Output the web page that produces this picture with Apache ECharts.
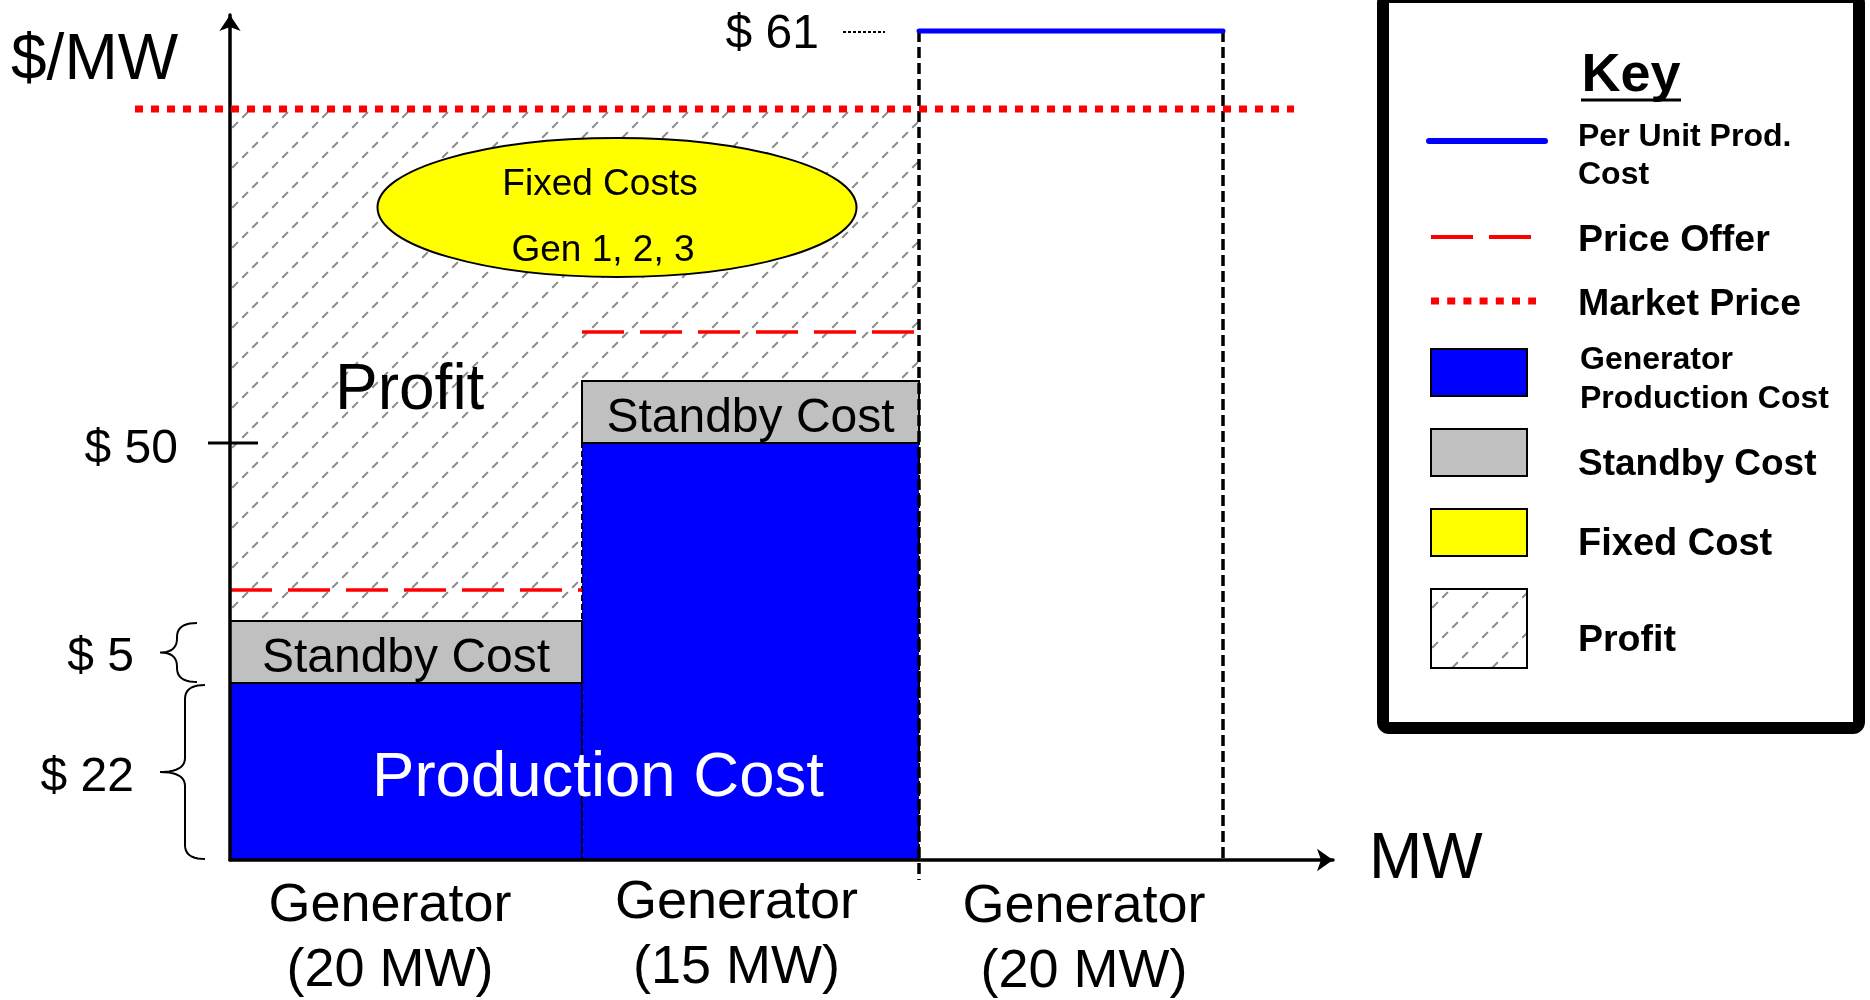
<!DOCTYPE html>
<html>
<head>
<meta charset="utf-8">
<title>Generator cost stack and market price</title>
<script src="https://cdn.jsdelivr.net/npm/echarts@6/dist/echarts.min.js"></script>
<style>
  html, body { margin: 0; padding: 0; background: #fff; }
  #chart { width: 1870px; height: 1000px; }
</style>
</head>
<body>
<div id="chart"></div>
<script>
// ---- data -------------------------------------------------------------
const generators = ['Generator', 'Generator', 'Generator'];
const capacityMW = [20, 15, 20];               // MW per generator
const productionCost = [22, 50, 61];           // $/MW per unit production cost
const standbyCost = [5, 5, 0];                 // $/MW standby cost
const priceOffer = [31, 55.9, null];           // $/MW price offer
const dispatched = [true, true, false];        // running below the market price
const marketPrice = 60;                        // $/MW clearing price
const priceTicks = [50];                       // marked on the price axis

// ---- not-to-scale axes ------------------------------------------------
// The drawing is schematic: values are spread over each axis by these
// break points (value -> axis units) before ECharts maps units to pixels.
const PRICE_BREAKS = [[0, 0], [22, 177], [27, 239], [50, 417], [55, 479], [60, 751], [61, 829]];
const MW_BREAKS = [[0, 0], [20, 352], [35, 689], [55, 993]];
function stepScale(breaks, v) {
  for (let i = 1; i < breaks.length; i++) {
    const [v0, u0] = breaks[i - 1];
    const [v1, u1] = breaks[i];
    if (v <= v1 || i === breaks.length - 1) return u0 + (v - v0) * (u1 - u0) / (v1 - v0);
  }
  return 0;
}
const X = v => stepScale(MW_BREAKS, v);
const Y = v => stepScale(PRICE_BREAKS, v);

const mwStart = capacityMW.map((_, i) => capacityMW.slice(0, i).reduce((a, b) => a + b, 0));
const mwEnd = mwStart.map((s, i) => s + capacityMW[i]);
// one row per generator: [x0, x1, production top, standby top, offer, index]
const genRows = generators.map((_, i) => [
  X(mwStart[i]), X(mwEnd[i]),
  Y(productionCost[i]), Y(productionCost[i] + standbyCost[i]),
  priceOffer[i] == null ? -1 : Y(priceOffer[i]), i
]);
const runningRows = genRows.filter(r => dispatched[r[5]]);
const idleRows = genRows.filter(r => !dispatched[r[5]]);

// ---- styles -----------------------------------------------------------
const FONT = 'Liberation Sans, Arial, Helvetica, sans-serif';
const BLUE = '#0000ff', GREY = '#c0c0c0', RED = '#ff0000', YELLOW = '#ffff00';
// offsets of the generator names from the block centre / MW axis
const LABEL_NUDGE = [[-16, 13.5], [-14, 10.5], [13, 15]];

// diagonal dashed hatch used for the profit area
function makeHatch() {
  const s = 40;
  const c = document.createElement('canvas');
  c.width = s; c.height = s;
  const ctx = c.getContext('2d');
  ctx.strokeStyle = '#8a8a8a';
  ctx.lineWidth = 2;
  ctx.setLineDash([8, Math.SQRT2 * s / 4 - 8]);
  ctx.lineDashOffset = 11;
  ctx.beginPath();
  ctx.moveTo(0, s);
  ctx.lineTo(s, 0);
  ctx.stroke();
  return { image: c, repeat: 'repeat' };
}
const HATCH = makeHatch();

// curly brace opening to the right, sampled as a polyline
function bracePoints(xEnd, xSpine, xTip, yTop, yBot) {
  const pts = [];
  const mid = (yTop + yBot) / 2;
  const r = Math.min(14, (yBot - yTop) / 4);
  const quad = (p0, c, p1) => {
    for (let t = 0; t <= 1.0001; t += 0.1) {
      const a = (1 - t) * (1 - t), b = 2 * (1 - t) * t, d = t * t;
      pts.push([a * p0[0] + b * c[0] + d * p1[0], a * p0[1] + b * c[1] + d * p1[1]]);
    }
  };
  quad([xEnd, yTop], [xSpine, yTop], [xSpine, yTop + r]);
  quad([xSpine, mid - r], [xSpine, mid], [xTip, mid]);
  quad([xTip, mid], [xSpine, mid], [xSpine, mid + r]);
  quad([xSpine, yBot - r], [xSpine, yBot], [xEnd, yBot]);
  return pts;
}

const chart = echarts.init(document.getElementById('chart'), null, { renderer: 'canvas' });

const option = {
  backgroundColor: '#fff',
  animation: false,
  grid: { left: 230, top: 15, width: 1103, height: 845 },
  xAxis: {
    type: 'value', min: 0, max: 1103, z: 4,
    name: 'MW', nameLocation: 'end', nameGap: 36,
    nameTextStyle: { fontFamily: FONT, fontSize: 64, color: '#000', verticalAlign: 'middle', padding: [9, 0, 0, 0] },
    axisLine: { show: true, symbol: ['none', 'arrow'], symbolSize: [17, 16],
      lineStyle: { color: '#000', width: 3.5 } },
    axisTick: { show: false }, axisLabel: { show: false }, splitLine: { show: false }
  },
  yAxis: {
    type: 'value', min: 0, max: 845, z: 4,
    axisLine: { show: true, symbol: ['none', 'arrow'], symbolSize: [16, 16],
      lineStyle: { color: '#000', width: 3.5 } },
    axisTick: { show: false }, axisLabel: { show: false }, splitLine: { show: false }
  },
  series: [
    {
      // profit: between the cost stack and the market price
      name: 'Profit', type: 'custom', z: 1, silent: true,
      data: runningRows,
      renderItem: (p, api) => {
        const a = api.coord([api.value(0), Y(marketPrice)]);
        const b = api.coord([api.value(1), api.value(3)]);
        return { type: 'rect', shape: { x: a[0], y: a[1], width: b[0] - a[0], height: b[1] - a[1] },
          style: { fill: HATCH } };
      }
    },
    {
      name: 'Generator Production Cost', type: 'custom', z: 2, silent: true,
      data: runningRows,
      renderItem: (p, api) => {
        const a = api.coord([api.value(0), api.value(2)]);
        const b = api.coord([api.value(1), 0]);
        return { type: 'rect', shape: { x: a[0], y: a[1], width: b[0] - a[0], height: b[1] - a[1] },
          style: { fill: BLUE, stroke: '#000', lineWidth: 2, lineDash: [6, 3] } };
      }
    },
    {
      name: 'Standby Cost', type: 'custom', z: 2, silent: true,
      data: runningRows,
      renderItem: (p, api) => {
        const a = api.coord([api.value(0), api.value(3)]);
        const b = api.coord([api.value(1), api.value(2)]);
        return { type: 'group', children: [
          { type: 'rect', shape: { x: a[0], y: a[1], width: b[0] - a[0], height: b[1] - a[1] },
            style: { fill: GREY, stroke: '#000', lineWidth: 2 } },
          { type: 'text', x: (a[0] + b[0]) / 2, y: (a[1] + b[1]) / 2 + 7,
            style: { text: 'Standby Cost', fontFamily: FONT, fontSize: 48, fill: '#000',
              align: 'center', verticalAlign: 'middle' } }
        ] };
      }
    },
    {
      name: 'Price Offer', type: 'custom', z: 3, silent: true,
      data: runningRows.filter(r => r[4] >= 0),
      renderItem: (p, api) => {
        const a = api.coord([api.value(0), api.value(4)]);
        const b = api.coord([api.value(1), api.value(4)]);
        return { type: 'line', shape: { x1: a[0], y1: a[1], x2: b[0], y2: b[1] },
          style: { stroke: RED, lineWidth: 3.5, lineDash: [42, 16] } };
      }
    },
    {
      // generator above the market price: unit cost line over an empty dashed block
      name: 'Per Unit Prod. Cost', type: 'custom', z: 3, silent: true,
      data: idleRows,
      renderItem: (p, api) => {
        const a = api.coord([api.value(0), api.value(2)]);
        const b = api.coord([api.value(1), 0]);
        const i = api.value(5);
        return { type: 'group', children: [
          { type: 'line', shape: { x1: a[0], y1: a[1], x2: a[0], y2: b[1] + 20 },
            style: { stroke: '#000', lineWidth: 3.5, lineDash: [11, 5] } },
          { type: 'line', shape: { x1: b[0], y1: a[1], x2: b[0], y2: b[1] },
            style: { stroke: '#000', lineWidth: 3.5, lineDash: [11, 5] } },
          { type: 'line', shape: { x1: a[0], y1: a[1], x2: b[0], y2: a[1] },
            style: { stroke: BLUE, lineWidth: 5, lineCap: 'round' } },
          { type: 'line', shape: { x1: a[0] - 76, y1: a[1] + 1, x2: a[0] - 34, y2: a[1] + 1 },
            style: { stroke: '#000', lineWidth: 2, lineDash: [3, 2] } },
          { type: 'text', x: a[0] - 100, y: a[1] + 4,
            style: { text: '$ ' + productionCost[i], fontFamily: FONT, fontSize: 48, fill: '#000',
              align: 'right', verticalAlign: 'middle' } }
        ] };
      }
    },
    {
      name: 'Market Price', type: 'custom', z: 6, silent: true,
      data: [[0, X(mwEnd[mwEnd.length - 1]), Y(marketPrice)]],
      renderItem: (p, api) => {
        const a = api.coord([api.value(0), api.value(2)]);
        const b = api.coord([api.value(1), api.value(2)]);
        return { type: 'line', shape: { x1: a[0] - 95, y1: a[1], x2: b[0] + 71, y2: b[1] },
          style: { stroke: RED, lineWidth: 7, lineDash: [8, 8] } };
      }
    },
    {
      // ticks on the price axis
      name: 'Price ticks', type: 'custom', z: 5, silent: true,
      data: priceTicks.map(v => [0, Y(v), v]),
      renderItem: (p, api) => {
        const a = api.coord([0, api.value(1)]);
        return { type: 'group', children: [
          { type: 'line', shape: { x1: a[0] - 22, y1: a[1], x2: a[0] + 28, y2: a[1] },
            style: { stroke: '#000', lineWidth: 3 } },
          { type: 'text', x: a[0] - 52, y: a[1] + 7,
            style: { text: '$ ' + api.value(2), fontFamily: FONT, fontSize: 48, fill: '#000',
              align: 'right', verticalAlign: 'middle' } }
        ] };
      }
    },
    {
      // braces giving the cost build-up of the first generator
      name: 'Cost braces', type: 'custom', z: 5, silent: true,
      data: [
        [0, Y(productionCost[0]), productionCost[0], 25],
        [Y(productionCost[0]), Y(productionCost[0] + standbyCost[0]), standbyCost[0], 33]
      ],
      renderItem: (p, api) => {
        const lo = api.coord([0, api.value(0)]);
        const hi = api.coord([0, api.value(1)]);
        const endOff = api.value(3);
        const ax = lo[0];
        const pts = bracePoints(ax - endOff, ax - endOff - 20, ax - 70, hi[1] + 2, lo[1] - 1);
        const mid = (lo[1] + hi[1]) / 2;
        return { type: 'group', children: [
          { type: 'polyline', shape: { points: pts }, style: { stroke: '#000', lineWidth: 2, fill: null } },
          { type: 'text', x: ax - 96, y: mid + 6,
            style: { text: '$ ' + api.value(2), fontFamily: FONT, fontSize: 48, fill: '#000',
              align: 'right', verticalAlign: 'middle' } }
        ] };
      }
    },
    {
      // generator names under the MW axis
      name: 'Generator labels', type: 'custom', z: 5, silent: true,
      data: genRows,
      renderItem: (p, api) => {
        const i = api.value(5);
        const a = api.coord([api.value(0), 0]);
        const b = api.coord([api.value(1), 0]);
        return { type: 'text', x: (a[0] + b[0]) / 2 + LABEL_NUDGE[i][0], y: a[1] + LABEL_NUDGE[i][1],
          style: { text: generators[i] + '\n(' + capacityMW[i] + ' MW)', fontFamily: FONT, fontSize: 54,
            lineHeight: 65, fill: '#000', align: 'center', verticalAlign: 'top' } };
      }
    }
  ],
  graphic: [
    { type: 'text', x: 11, y: 61, z: 100,
      style: { text: '$/MW', fontFamily: FONT, fontSize: 64, fill: '#000', verticalAlign: 'middle' } },
    { type: 'text', x: 335, y: 391, z: 100,
      style: { text: 'Profit', fontFamily: FONT, fontSize: 64, fill: '#000', verticalAlign: 'middle' } },
    { type: 'text', x: 598, y: 778, z: 100,
      style: { text: 'Production Cost', fontFamily: FONT, fontSize: 63.5, fill: '#fff', align: 'center', verticalAlign: 'middle' } },
    { type: 'ellipse', shape: { cx: 617, cy: 207.5, rx: 239.5, ry: 69.5 }, z: 100,
      style: { fill: YELLOW, stroke: '#000', lineWidth: 2 } },
    { type: 'text', x: 600, y: 185, z: 101,
      style: { text: 'Fixed Costs', fontFamily: FONT, fontSize: 37, fill: '#000', align: 'center', verticalAlign: 'middle' } },
    { type: 'text', x: 603, y: 251, z: 101,
      style: { text: 'Gen 1, 2, 3', fontFamily: FONT, fontSize: 37, fill: '#000', align: 'center', verticalAlign: 'middle' } },

    // key
    { type: 'rect', shape: { x: 1383, y: -3, width: 476, height: 731, r: 6 }, z: 100,
      style: { fill: '#fff', stroke: '#000', lineWidth: 12 } },
    { type: 'text', x: 1631, y: 76, z: 101,
      style: { text: 'Key', fontFamily: FONT, fontWeight: 'bold', fontSize: 54, fill: '#000', align: 'center', verticalAlign: 'middle' } },
    { type: 'line', shape: { x1: 1581, y1: 100, x2: 1681, y2: 100 }, z: 101, style: { stroke: '#000', lineWidth: 3 } },

    { type: 'line', shape: { x1: 1429, y1: 141, x2: 1545, y2: 141 }, z: 101,
      style: { stroke: BLUE, lineWidth: 6, lineCap: 'round' } },
    { type: 'text', x: 1578, y: 156, z: 101,
      style: { text: 'Per Unit Prod.\nCost', fontFamily: FONT, fontWeight: 'bold', fontSize: 32, lineHeight: 37.5, fill: '#000', verticalAlign: 'middle' } },

    { type: 'line', shape: { x1: 1431, y1: 237, x2: 1533, y2: 237 }, z: 101,
      style: { stroke: RED, lineWidth: 4, lineDash: [42, 16] } },
    { type: 'text', x: 1578, y: 241, z: 101,
      style: { text: 'Price Offer', fontFamily: FONT, fontWeight: 'bold', fontSize: 37.5, fill: '#000', verticalAlign: 'middle' } },

    { type: 'line', shape: { x1: 1431, y1: 301, x2: 1536, y2: 301 }, z: 101,
      style: { stroke: RED, lineWidth: 7, lineDash: [8, 8.2] } },
    { type: 'text', x: 1578, y: 305, z: 101,
      style: { text: 'Market Price', fontFamily: FONT, fontWeight: 'bold', fontSize: 37.5, fill: '#000', verticalAlign: 'middle' } },

    { type: 'rect', shape: { x: 1431, y: 349, width: 96, height: 47 }, z: 101,
      style: { fill: BLUE, stroke: '#000', lineWidth: 2 } },
    { type: 'text', x: 1580, y: 380, z: 101,
      style: { text: 'Generator\nProduction Cost', fontFamily: FONT, fontWeight: 'bold', fontSize: 32, lineHeight: 39, fill: '#000', verticalAlign: 'middle' } },

    { type: 'rect', shape: { x: 1431, y: 429, width: 96, height: 47 }, z: 101,
      style: { fill: GREY, stroke: '#000', lineWidth: 2 } },
    { type: 'text', x: 1578, y: 465, z: 101,
      style: { text: 'Standby Cost', fontFamily: FONT, fontWeight: 'bold', fontSize: 37, fill: '#000', verticalAlign: 'middle' } },

    { type: 'rect', shape: { x: 1431, y: 509, width: 96, height: 47 }, z: 101,
      style: { fill: YELLOW, stroke: '#000', lineWidth: 2 } },
    { type: 'text', x: 1578, y: 545, z: 101,
      style: { text: 'Fixed Cost', fontFamily: FONT, fontWeight: 'bold', fontSize: 38, fill: '#000', verticalAlign: 'middle' } },

    { type: 'rect', shape: { x: 1431, y: 589, width: 96, height: 79 }, z: 101,
      style: { fill: HATCH, stroke: '#000', lineWidth: 2 } },
    { type: 'text', x: 1578, y: 641, z: 101,
      style: { text: 'Profit', fontFamily: FONT, fontWeight: 'bold', fontSize: 37.5, fill: '#000', verticalAlign: 'middle' } }
  ]
};

chart.setOption(option);
</script>
</body>
</html>
